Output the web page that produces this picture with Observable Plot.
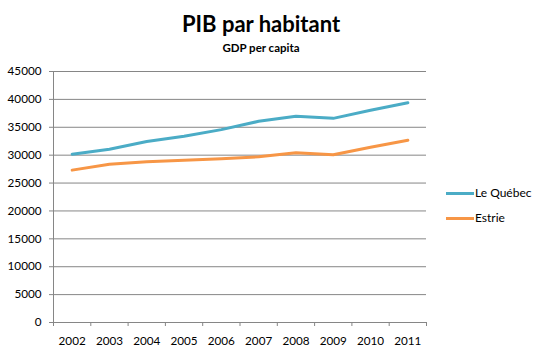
<!DOCTYPE html>
<html>
<head>
<meta charset="utf-8">
<script src="https://cdn.jsdelivr.net/npm/d3@7"></script>
<script src="https://cdn.jsdelivr.net/npm/@observablehq/plot@0.6"></script>
<style>
  html, body { margin: 0; padding: 0; background: #fff; }
  #wrap { position: relative; width: 545px; height: 355px; font-family: Lato, "Open Sans", sans-serif; color: #000; }
  #title { position: absolute; left: 0; width: 522px; top: 10px; text-align: center; font-weight: bold; font-size: 22px; line-height: 28px; }
  #subtitle { position: absolute; left: 0; width: 522px; top: 41px; text-align: center; font-weight: bold; font-size: 11.5px; line-height: 14px; }
  #chart { position: absolute; left: 0; top: 58px; }
  .leg { position: absolute; left: 446px; font-size: 12px; line-height: 14px; display: flex; align-items: center; }
  .leg .sw { display: inline-block; width: 28px; height: 3px; margin-right: 1px; }
</style>
</head>
<body>
<div id="wrap">
  <div id="title">PIB par habitant</div>
  <div id="subtitle">GDP per capita</div>
  <div id="chart"></div>
  <div id="legend"></div>
</div>
<script>
const years = [2002, 2003, 2004, 2005, 2006, 2007, 2008, 2009, 2010, 2011];
const quebec = [30180, 31070, 32440, 33390, 34580, 36070, 36960, 36600, 38040, 39400];
const estrie = [27320, 28390, 28810, 29110, 29350, 29700, 30420, 30060, 31430, 32680];
const yTicks = [0, 5000, 10000, 15000, 20000, 25000, 30000, 35000, 40000, 45000];
const seriesNames = ["Le Québec", "Estrie"];
const seriesColors = ["#4BACC6", "#F79646"];

const data = years.map((y, i) => ({year: y, quebec: quebec[i], estrie: estrie[i]}));
const boundaries = years.map(y => y - 0.5).concat([years[years.length - 1] + 0.5]);
const grey = "#868686";

const chart = Plot.plot({
  width: 545,
  height: 295,
  marginTop: 13,
  marginBottom: 31,
  marginLeft: 53,
  marginRight: 119,
  style: {fontFamily: "Lato, 'Open Sans', sans-serif", fontSize: "11.7px", color: "#000", background: "transparent"},
  x: {type: "linear", domain: [boundaries[0], boundaries[boundaries.length - 1]]},
  y: {domain: [0, 45000]},
  marks: [
    Plot.gridY(yTicks.filter(d => d > 0), {stroke: grey, strokeOpacity: 1}),
    Plot.ruleY([0], {stroke: grey}),
    Plot.ruleX([boundaries[0]], {stroke: grey}),
    Plot.axisY({ticks: yTicks, tickSize: 4, tickPadding: 8, tickFormat: d => String(d), stroke: grey, label: null}),
    Plot.axisX({ticks: boundaries, tickSize: 4, tickFormat: () => "", stroke: grey, label: null}),
    Plot.axisX({ticks: years, tickSize: 0, tickPadding: 14, tickFormat: d => String(d), label: null}),
    Plot.line(data, {x: "year", y: "quebec", stroke: seriesColors[0], strokeWidth: 3}),
    Plot.line(data, {x: "year", y: "estrie", stroke: seriesColors[1], strokeWidth: 3})
  ]
});
document.getElementById("chart").appendChild(chart);

const legend = document.getElementById("legend");
const legTops = [186, 211];
seriesNames.forEach((name, i) => {
  const d = document.createElement("div");
  d.className = "leg";
  d.style.top = legTops[i] + "px";
  d.innerHTML = `<span class="sw" style="background:${seriesColors[i]}"></span><span>${name}</span>`;
  legend.appendChild(d);
});
</script>
</body>
</html>
